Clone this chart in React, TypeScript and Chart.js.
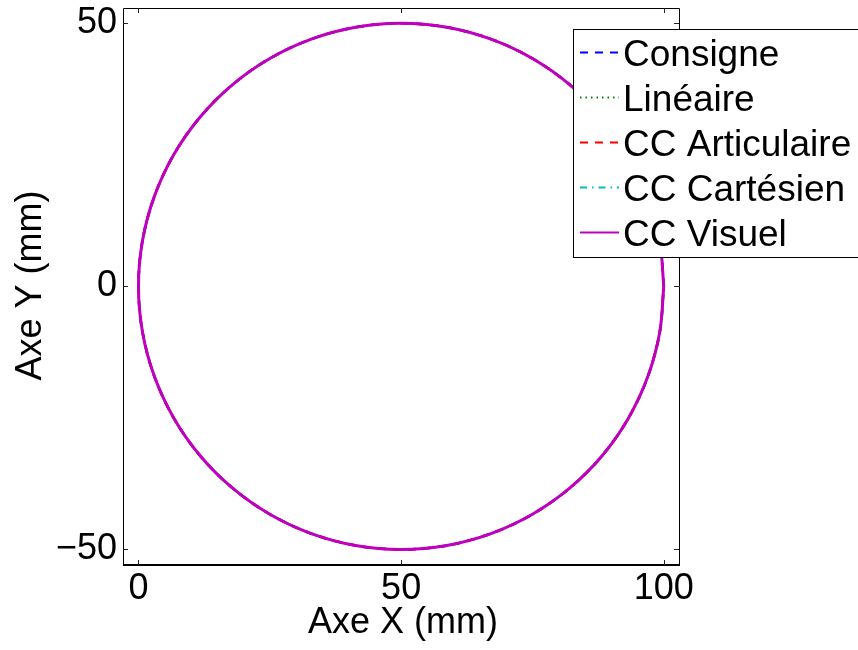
import React, { useEffect, useRef } from 'react';
import { Chart, registerables } from 'chart.js';

Chart.register(...registerables);

const FONT = '"Liberation Sans", Arial, Helvetica, sans-serif';

// Trajectory points (mm): circle centred at (50, 0), radius 50
const trajX = [100, 99.24, 96.98, 93.3, 88.3, 82.14, 75, 67.1, 58.68, 50, 41.32, 32.9, 25, 17.86, 11.7, 6.7, 3.02, 0.76, 0, 0.76, 3.02, 6.7, 11.7, 17.86, 25, 32.9, 41.32, 50, 58.68, 67.1, 75, 82.14, 88.3, 93.3, 96.98, 99.24, 100];
const trajY = [0, 8.68, 17.1, 25, 32.14, 38.3, 43.3, 46.98, 49.24, 50, 49.24, 46.98, 43.3, 38.3, 32.14, 25, 17.1, 8.68, 0, -8.68, -17.1, -25, -32.14, -38.3, -43.3, -46.98, -49.24, -50, -49.24, -46.98, -43.3, -38.3, -32.14, -25, -17.1, -8.68, 0];

const seriesNames = ['Consigne', 'Linéaire', 'CC Articulaire', 'CC Cartésien', 'CC Visuel'];
const seriesColors = ['#0000ff', '#008000', '#ff0000', '#00bfbf', '#bf00bf'];
const seriesDashes = [[8, 7], [1.5, 4], [8, 7], [7, 5, 1.5, 5], []];
const seriesWidths = [2.5, 2, 2.5, 2, 3];

const xTickValues = [0, 50, 100];
const yTickValues = [-50, 0, 50];
const xLimits = [-2.95, 102.9];
const yLimits = [-52.95, 52.9];
const xTitle = 'Axe X (mm)';
const yTitle = 'Axe Y (mm)';

const framePlugin = {
  id: 'matlabFrame',
  afterDraw(chart: any) {
    const ctx = chart.ctx;
    const area = chart.chartArea;
    const xs = chart.scales.x;
    const ys = chart.scales.y;
    ctx.save();
    // box
    ctx.strokeStyle = '#000';
    ctx.lineWidth = 1;
    ctx.setLineDash([]);
    ctx.beginPath();
    ctx.moveTo(area.left + 0.5, area.bottom);
    ctx.lineTo(area.left + 0.5, area.top + 0.5);
    ctx.lineTo(area.right + 0.5, area.top + 0.5);
    ctx.lineTo(area.right + 0.5, area.bottom);
    ctx.stroke();
    ctx.lineWidth = 2;
    ctx.beginPath();
    ctx.moveTo(area.left, area.bottom);
    ctx.lineTo(area.right + 1, area.bottom);
    ctx.stroke();
    // inward ticks
    ctx.lineWidth = 1;
    ctx.strokeStyle = '#222';
    const tl = 5;
    xTickValues.forEach((v) => {
      const px = Math.round(xs.getPixelForValue(v)) + 0.5;
      ctx.beginPath();
      ctx.moveTo(px, area.bottom);
      ctx.lineTo(px, area.bottom - tl);
      ctx.moveTo(px, area.top);
      ctx.lineTo(px, area.top + tl);
      ctx.stroke();
    });
    yTickValues.forEach((v) => {
      const py = Math.round(ys.getPixelForValue(v)) + 0.5;
      ctx.beginPath();
      ctx.moveTo(area.left, py);
      ctx.lineTo(area.left + tl, py);
      ctx.moveTo(area.right, py);
      ctx.lineTo(area.right - tl, py);
      ctx.stroke();
    });
    // axis titles
    ctx.fillStyle = '#000';
    ctx.font = `36px ${FONT}`;
    ctx.textAlign = 'center';
    ctx.textBaseline = 'alphabetic';
    ctx.fillText(xTitle, (area.left + area.right) / 2 + 2, 633);
    ctx.save();
    ctx.translate(41, (area.top + area.bottom) / 2 - 1);
    ctx.rotate(-Math.PI / 2);
    ctx.fillText(yTitle, 0, 0);
    ctx.restore();
    // legend
    const lx = 573;
    const ly = 29;
    const lw = 300;
    const lh = 228;
    ctx.fillStyle = '#fff';
    ctx.fillRect(lx, ly, lw, lh);
    ctx.strokeStyle = '#000';
    ctx.lineWidth = 1;
    ctx.strokeRect(lx + 0.5, ly + 0.5, lw, lh);
    ctx.font = `37px ${FONT}`;
    ctx.textAlign = 'left';
    chart.data.datasets.forEach((ds: any, i: number) => {
      const y = 52.5 + 45 * i;
      ctx.strokeStyle = ds.borderColor;
      ctx.lineWidth = 2;
      ctx.setLineDash(ds.borderDash || []);
      ctx.beginPath();
      ctx.moveTo(580, y);
      ctx.lineTo(619, y);
      ctx.stroke();
      ctx.setLineDash([]);
      ctx.fillStyle = '#000';
      ctx.fillText(ds.label, 623, y + 13.5);
    });
    ctx.restore();
  },
};

export default function App() {
  const ref = useRef<HTMLCanvasElement | null>(null);
  useEffect(() => {
    if (!ref.current) return;
    const datasets = seriesNames.map((name, i) => ({
      label: name,
      data: trajX.map((x, k) => ({ x, y: trajY[k] })),
      showLine: true,
      borderColor: seriesColors[i],
      backgroundColor: seriesColors[i],
      borderDash: seriesDashes[i],
      borderWidth: seriesWidths[i],
      pointRadius: 0,
      pointHoverRadius: 0,
      tension: 0.33,
      fill: false,
      order: seriesNames.length - i,
    }));
    const chart = new Chart(ref.current, {
      type: 'scatter',
      data: { datasets },
      options: {
        animation: false,
        responsive: false,
        maintainAspectRatio: false,
        events: [],
        layout: { padding: { left: 0, right: 179, top: 8, bottom: 0 } },
        plugins: { legend: { display: false }, tooltip: { enabled: false }, title: { display: false } },
        scales: {
          x: {
            type: 'linear',
            position: 'bottom',
            min: xLimits[0],
            max: xLimits[1],
            grid: { display: false, drawTicks: false },
            border: { display: false },
            afterBuildTicks: (s: any) => { s.ticks = xTickValues.map((v) => ({ value: v })); },
            afterFit: (s: any) => { s.height = 85; s.paddingLeft = 0; s.paddingRight = 0; },
            ticks: {
              padding: 2,
              maxRotation: 0,
              autoSkip: false,
              color: '#000',
              font: { family: FONT, size: 36 },
              callback: (v: any) => String(v).replace('-', '\u2212'),
            },
          },
          y: {
            type: 'linear',
            position: 'left',
            min: yLimits[0],
            max: yLimits[1],
            grid: { display: false, drawTicks: false },
            border: { display: false },
            afterBuildTicks: (s: any) => { s.ticks = yTickValues.map((v) => ({ value: v })); },
            afterFit: (s: any) => { s.width = 123; s.paddingTop = 0; s.paddingBottom = 0; },
            ticks: {
              padding: 6,
              autoSkip: false,
              color: '#000',
              font: { family: FONT, size: 36 },
              callback: (v: any) => String(v).replace('-', '\u2212'),
            },
          },
        },
      },
      plugins: [framePlugin],
    } as any);
    return () => chart.destroy();
  }, []);
  return (
    <div style={{ position: 'fixed', left: 0, top: 0, width: 858, height: 650, background: '#fff' }}>
      <canvas ref={ref} width={858} height={650} style={{ display: 'block' }} />
    </div>
  );
}
